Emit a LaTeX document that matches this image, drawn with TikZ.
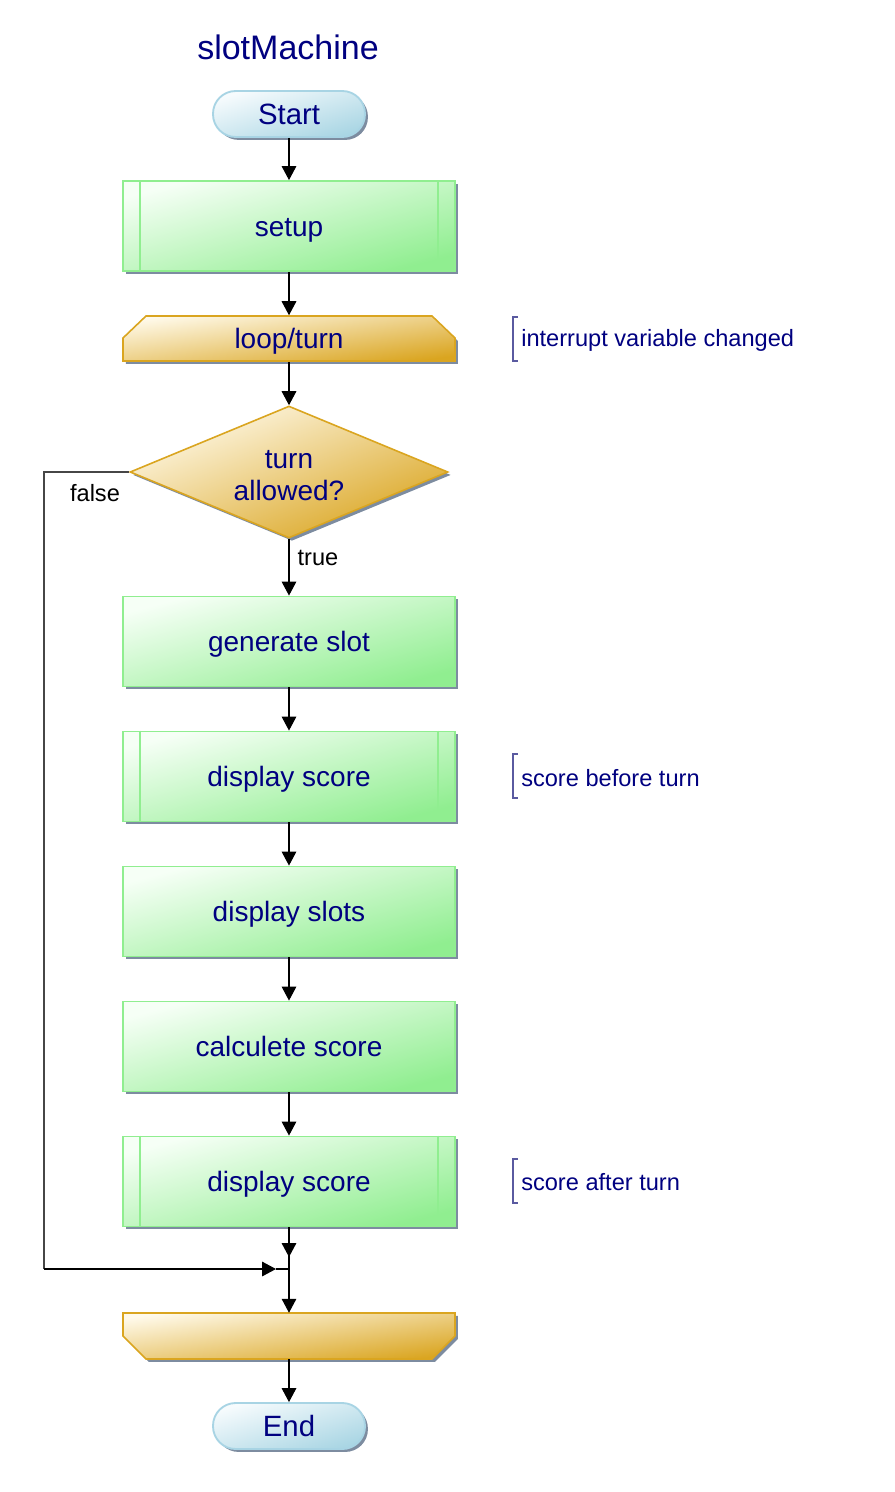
\documentclass[tikz,border=0pt]{standalone}
\usepackage{fontspec}
\setmainfont{Liberation Sans}
\usetikzlibrary{shapes.geometric,arrows.meta}
\definecolor{navyt}{RGB}{0,0,128}
\definecolor{greenb}{RGB}{144,238,144}
\definecolor{greenl}{RGB}{246,255,246}
\definecolor{orab}{RGB}{218,165,32}
\definecolor{oral}{RGB}{255,250,235}
\definecolor{blueb}{RGB}{168,212,228}
\definecolor{bluel}{RGB}{246,251,253}
\definecolor{bluef}{RGB}{170,214,228}
\definecolor{shadowc}{RGB}{125,140,160}
\definecolor{brkc}{RGB}{90,90,160}
\definecolor{falsec}{RGB}{70,70,70}
\begin{document}
\begin{tikzpicture}[x=0.75pt,y=-0.75pt,
  shadowed/.style={preaction={fill=shadowc, transform canvas={shift={(2.2pt,-2.2pt)}}}},
  gshade/.style n args={3}{top color=#1, bottom color=#2, shading angle=#3},
  proc/.style={rectangle, draw=greenb, line width=1.4pt, shadowed, gshade={greenl}{greenb}{15},
    minimum width=249pt, minimum height=67.5pt, inner sep=0pt, text height=15pt, text depth=0pt,
    font=\fontsize{21}{24}\selectfont, text=navyt},
  subline/.style={draw=greenb, line width=1.2pt},
  term/.style={rectangle, rounded corners=17pt, draw=blueb, line width=1.4pt, shadowed, gshade={bluel}{bluef}{17},
    minimum width=114pt, minimum height=34.5pt, inner sep=0pt, text height=15.5pt, text depth=0pt,
    font=\fontsize{22}{26}\selectfont, text=navyt},
  loopshape/.style={draw=orab, line width=1.2pt, shadowed, gshade={oral}{orab}{8}},
  looptext/.style={rectangle, minimum width=249pt, minimum height=34.5pt, inner sep=0pt,
    text height=15pt, text depth=0pt, font=\fontsize{21}{24}\selectfont, text=navyt},
  dec/.style={diamond, aspect=2.4, draw=orab, line width=1.2pt, shadowed, gshade={oral}{orab}{22},
    minimum width=238.5pt, minimum height=99pt, inner sep=0pt, align=center, text height=42pt, text depth=0pt,
    font=\fontsize{21}{24}\selectfont, text=navyt},
  cmt/.style={anchor=west, inner sep=0pt, font=\fontsize{17.7}{20}\selectfont, text=navyt},
  brk/.style={draw=brkc, line width=0.8pt},
  lbl/.style={inner sep=0pt, font=\fontsize{17.7}{20}\selectfont, text=black},
  line/.style={draw=black, line width=0.8pt},
  arr/.style={line, -{Triangle[width=11pt,length=10.5pt]}}
]
\useasboundingbox (0,0) rectangle (895,1492);

% title
\node[inner sep=0pt, font=\fontsize{25.5}{30}\selectfont, text=navyt] (title) at (288,47) {slotMachine};

% terminals
\node[term] (start) at (289,114) {Start};
\node[term] (end) at (289,1426) {End};

% process boxes
\node[proc] (setup) at (289,226) {setup};
\node[proc] (gen) at (289,641.5) {generate slot};
\node[proc] (ds1) at (289,776.5) {display score};
\node[proc] (slots) at (289,911.5) {display slots};
\node[proc] (calc) at (289,1046.5) {calculete score};
\node[proc] (ds2) at (289,1181.5) {display score};
\foreach \n in {setup,ds1,ds2}{
  \draw[subline] ([xshift=13.5pt]\n.north west) -- ([xshift=13.5pt]\n.south west);
  \draw[subline] ([xshift=-13.5pt]\n.north east) -- ([xshift=-13.5pt]\n.south east);
}

% loop start
\path[loopshape] (123,338) -- (146,316) -- (432,316) -- (455,338) -- (455,361) -- (123,361) -- cycle;
\node[looptext] (loop) at (289,338.5) {loop/turn};
% loop end
\path[loopshape] (123,1313) -- (455,1313) -- (455,1336) -- (432,1359) -- (146,1359) -- (123,1336) -- cycle;
\node[looptext] (loopend) at (289,1336) {};

% decision
\node[dec] (dec) at (289,472) {turn\\allowed?};

% comments
\draw[brk] (518,317) -- (513,317) -- (513,361) -- (518,361);
\node[cmt] (c1) at (521,340) {interrupt variable changed};
\draw[brk] (518,754) -- (513,754) -- (513,798) -- (518,798);
\node[cmt] (c2) at (521,778) {score before turn};
\draw[brk] (518,1159) -- (513,1159) -- (513,1203) -- (518,1203);
\node[cmt] (c3) at (521,1182) {score after turn};

% labels
\node[lbl] (lfalse) at (95,493) {false};
\node[lbl] (ltrue) at (318,558) {true};

% coordinates
\coordinate (j) at (289,1269);
\coordinate (jt) at (289,1257);
\coordinate (jl) at (276,1269);
\coordinate (fa) at (44,472);
\coordinate (fb) at (44,1269);

% connectors
\draw[arr] (start.south) -- (setup.north);
\draw[arr] (setup.south) -- (loop.north);
\draw[arr] (loop.south) -- (dec.north);
\draw[arr] (dec.south) -- (gen.north);
\draw[arr] (gen.south) -- (ds1.north);
\draw[arr] (ds1.south) -- (slots.north);
\draw[arr] (slots.south) -- (calc.north);
\draw[arr] (calc.south) -- (ds2.north);
\draw[line] (ds2.south) -- (j);
\draw[arr] (ds2.south) -- (jt);
\draw[line, draw=falsec] (dec.west) -- (fa) -- (fb);
\draw[arr] (fb) -- (jl);
\draw[line] (jl) -- (j);
\draw[arr] (j) -- (loopend.north);
\draw[arr] (loopend.south) -- (end.north);
\end{tikzpicture}
\end{document}
